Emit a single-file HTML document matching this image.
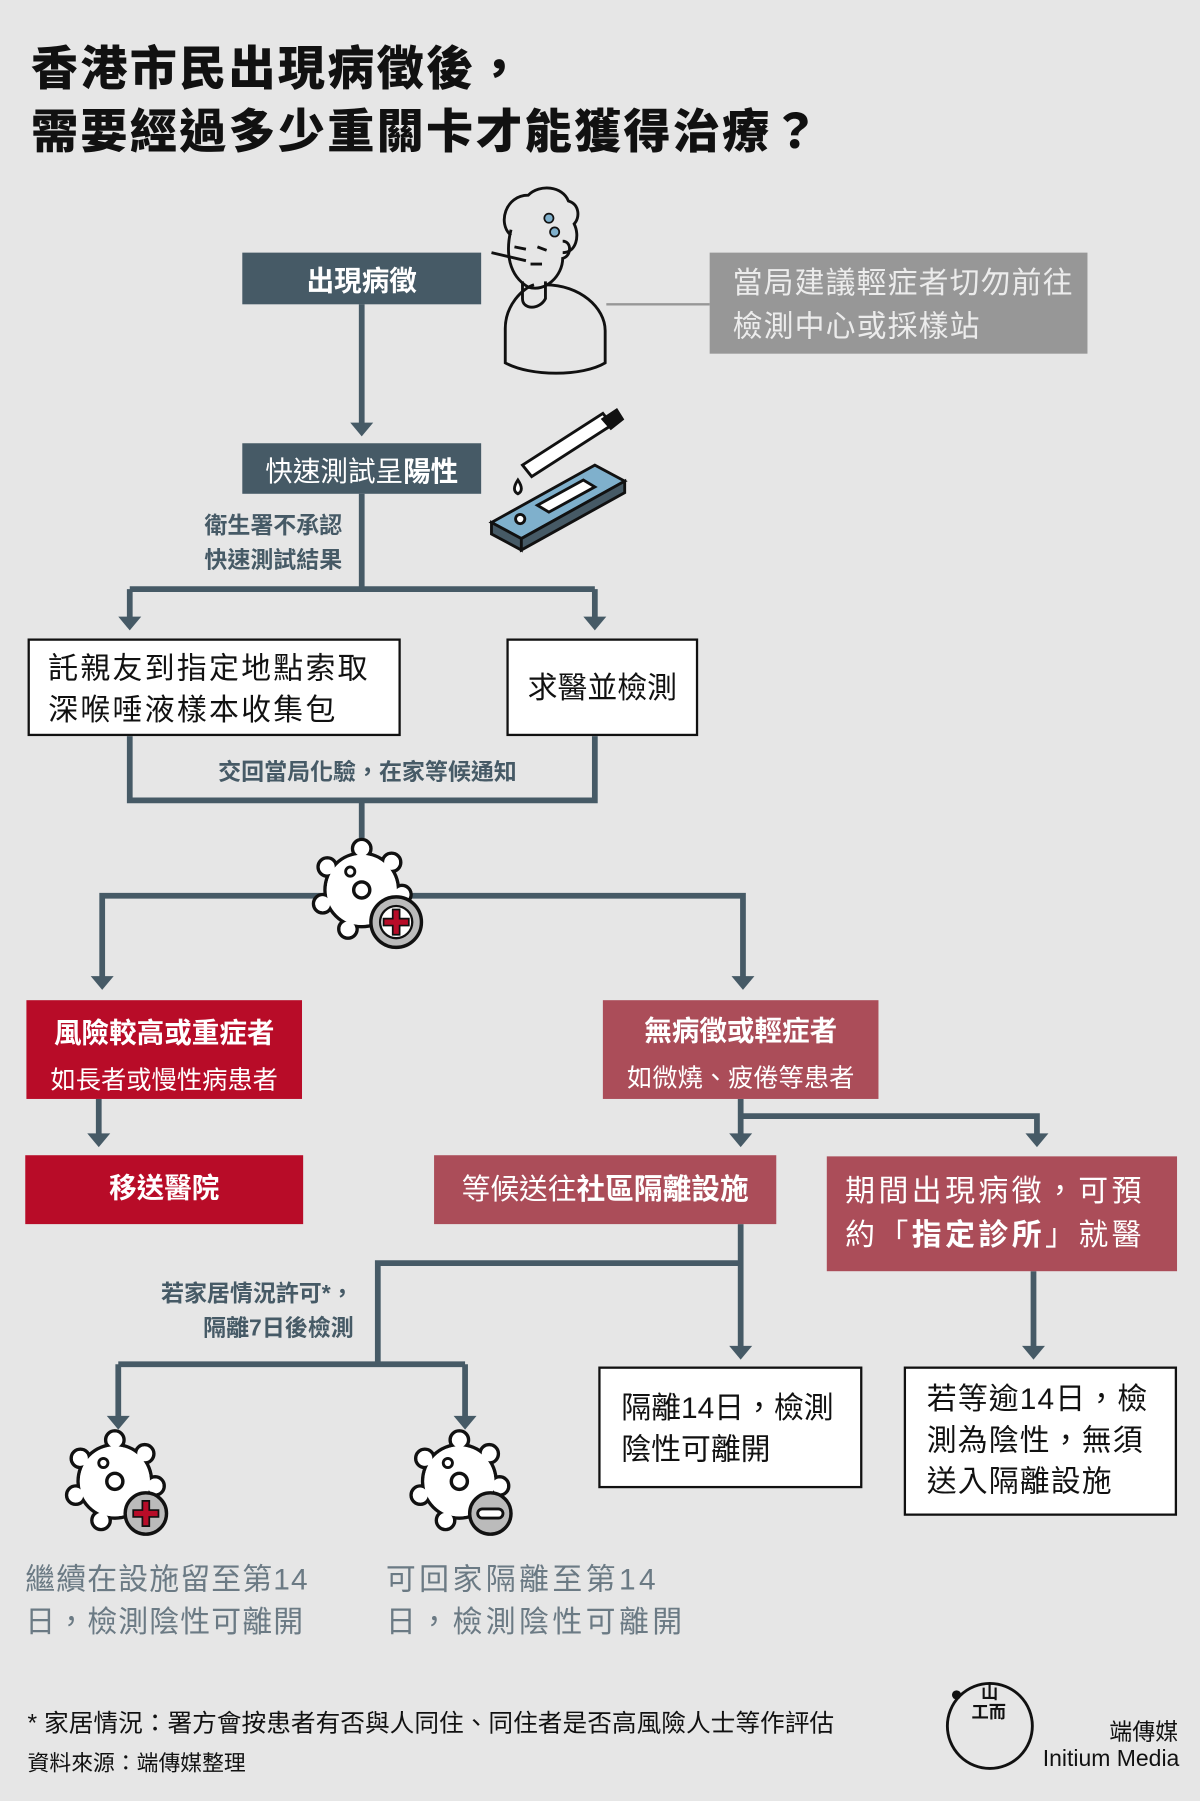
<!DOCTYPE html>
<html><head><meta charset="utf-8"><style>
html,body{margin:0;padding:0;background:#e6e6e6;}
body{width:1200px;height:1800px;overflow:hidden;position:relative;}
#w{position:absolute;left:0;top:0;width:1045px;height:1568px;transform:scale(1.14833);transform-origin:0 0;font-family:"Liberation Sans","Noto Sans CJK TC",sans-serif;}
.a{position:absolute;}
.t{font-size:41px;font-weight:900;color:#111;left:27px;letter-spacing:2px;}
.dk{background:#465a66;color:#fff;display:flex;align-items:center;justify-content:center;font-size:24px;}
.wb{background:#fff;border:2px solid #111;box-sizing:border-box;font-size:26px;color:#111;line-height:36px;}
.lab{color:#465a66;font-weight:bold;font-size:20px;line-height:30px;text-align:right;}
.red{background:#b80c28;color:#fff;text-align:center;}
.pk{background:#ab4d59;color:#fff;text-align:center;}
.gt{color:#6b7a84;font-size:26px;line-height:37px;letter-spacing:1px;}
</style></head><body><div id="w">
<div class="a t" style="top:26px">香港市民出現病徵後，</div>
<div class="a t" style="top:81px">需要經過多少重關卡才能獲得治療？</div>

<svg class="a" style="left:0;top:0" width="1045" height="1568">
<defs>
<g id="v">
<g stroke="#111" stroke-width="3" fill="#fff">
<circle cx="0" cy="-36" r="8"/><circle cx="26" cy="-24" r="8"/><circle cx="35" cy="4" r="8"/><circle cx="20" cy="30" r="8"/><circle cx="-12" cy="34" r="8"/><circle cx="-34" cy="12" r="8"/><circle cx="-30" cy="-20" r="8"/>
<circle cx="0" cy="0" r="32"/>
</g>
<g fill="#fff"><circle cx="0" cy="-36" r="6.5"/><circle cx="26" cy="-24" r="6.5"/><circle cx="35" cy="4" r="6.5"/><circle cx="20" cy="30" r="6.5"/><circle cx="-12" cy="34" r="6.5"/><circle cx="-34" cy="12" r="6.5"/><circle cx="-30" cy="-20" r="6.5"/><circle r="30.5"/></g>
<circle cx="0" cy="0" r="7" fill="#fff" stroke="#111" stroke-width="3"/>
<circle cx="-10" cy="-16" r="4" fill="#fff" stroke="#111" stroke-width="2.5"/>
</g>
</defs>
<g stroke="#465a66" stroke-width="5" fill="none">
<path d="M315 265V372"/>
<path d="M315 430V513M113 513H518M113 513V540M518 513V540"/>
<path d="M113 641V697H518V641M315 697V730"/>
<path d="M89 855V780H647V855"/>
<path d="M86 957V992"/>
<path d="M645 957V992M645 972H903V992"/>
<path d="M645 1066V1176M645 1100H329V1188M103 1188H405M103 1188V1238M405 1188V1238"/>
<path d="M900 1107V1176"/>
</g>
<g fill="#465a66">
<path d="M305 368h20l-10 12z"/><path d="M103 537h20l-10 12z"/><path d="M508 537h20l-10 12z"/>
<path d="M79 850h20l-10 12z"/><path d="M637 850h20l-10 12z"/>
<path d="M76 987h20l-10 12z"/><path d="M635 987h20l-10 12z"/><path d="M893 987h20l-10 12z"/>
<path d="M635 1172h20l-10 12z"/><path d="M890 1172h20l-10 12z"/>
<path d="M93 1233h20l-10 12z"/><path d="M395 1233h20l-10 12z"/>
</g>
<path d="M528 265H618" stroke="#979797" stroke-width="2"/>
<g stroke="#111" stroke-width="2.5" fill="none">
<path d="M445 205c-12-10-5-35 15-35 10-10 30-8 35 5 10 3 10 15 5 20 5 10 2 25-10 25"/>
<path d="M445 200c-5 20-2 40 15 50 15 5 30-10 30-25 8-2 8-15 0-15"/>
<path d="M455 245v15c0 10 15 10 20 0v-15"/>
<path d="M475 248c30 0 52 20 52 40v28c-20 12-65 12-87 0v-30c0-20 15-35 25-38"/>
<path d="M448 215l10 2M468 215l8 3M462 230l10 0"/>
<path d="M428 220l30 7"/>
</g>
<circle cx="478" cy="190" r="4" fill="#7fb0cc" stroke="#111" stroke-width="1.5"/>
<circle cx="483" cy="202" r="4" fill="#7fb0cc" stroke="#111" stroke-width="1.5"/>
<g stroke="#111" stroke-width="2.5">
<path d="M428 455l90-50 26 14-90 50z" fill="#7fb0cc"/>
<path d="M428 455v10l26 14v-10zM454 469v10l90-50v-10z" fill="#465a66"/>
<path d="M468 440l40-22 10 6-40 22z" fill="#fff"/>
<circle cx="453" cy="452" r="4" fill="#fff"/>
<path d="M455 405l70-45 8 10-70 45z" fill="#fff"/>
<path d="M525 365l12-8 5 8-10 8z" fill="#111"/>
<path d="M451 418c-4 6-4 10 0 12 4-2 4-6 0-12z" fill="#fff"/>
</g>
<use href="#v" x="315" y="775"/>
<g transform="translate(345,803)"><circle r="22" fill="#bbb" stroke="#111" stroke-width="3"/><circle r="14" fill="#fff" stroke="#111" stroke-width="2"/><path d="M-3-11h6v8h8v6h-8v8h-6v-8h-8v-6h8z" fill="#b80c28" stroke="#111" stroke-width="1.5"/></g>
<use href="#v" x="100" y="1290"/>
<g transform="translate(127,1318)"><circle r="18" fill="#bbb" stroke="#111" stroke-width="3"/><path d="M-3-11h6v8h8v6h-8v8h-6v-8h-8v-6h8z" fill="#b80c28" stroke="#111" stroke-width="1.5"/></g>
<use href="#v" x="400" y="1290"/>
<g transform="translate(427,1318)"><circle r="18" fill="#bbb" stroke="#111" stroke-width="3"/><rect x="-11" y="-4" width="22" height="8" rx="4" fill="#fff" stroke="#111" stroke-width="2.5"/></g>
<circle cx="862" cy="1503" r="37" fill="none" stroke="#111" stroke-width="2.5"/>
<circle cx="833" cy="1476" r="4" fill="#111"/>
</svg>

<div class="a dk" style="left:211px;top:220px;width:208px;height:45px;font-weight:bold;">出現病徵</div>
<div class="a" style="left:618px;top:220px;width:329px;height:88px;background:#979797;color:#ececec;font-size:26px;line-height:38px;padding:7px 0 0 20px;box-sizing:border-box;letter-spacing:1px;">當局建議輕症者切勿前往<br>檢測中心或採樣站</div>
<div class="a dk" style="left:211px;top:386px;width:208px;height:44px;">快速測試呈<b>陽性</b></div>
<div class="a lab" style="left:120px;top:443px;width:178px;">衛生署不承認<br>快速測試結果</div>
<div class="a wb" style="left:24px;top:556px;width:325px;height:85px;padding:6px 0 0 16px;letter-spacing:2px;">託親友到指定地點索取<br>深喉唾液樣本收集包</div>
<div class="a wb" style="left:441px;top:556px;width:167px;height:85px;display:flex;align-items:center;justify-content:center;">求醫並檢測</div>
<div class="a lab" style="left:120px;top:658px;width:400px;text-align:center;">交回當局化驗，在家等候通知</div>
<div class="a red" style="left:23px;top:871px;width:240px;height:86px;"><div style="font-size:24px;font-weight:bold;margin-top:9px;">風險較高或重症者</div><div style="font-size:22px;margin-top:8px;">如長者或慢性病患者</div></div>
<div class="a pk" style="left:525px;top:871px;width:240px;height:86px;"><div style="font-size:24px;font-weight:bold;margin-top:7px;">無病徵或輕症者</div><div style="font-size:22px;margin-top:8px;">如微燒、疲倦等患者</div></div>
<div class="a red" style="left:22px;top:1006px;width:242px;height:60px;line-height:60px;font-size:24px;font-weight:bold;">移送醫院</div>
<div class="a pk" style="left:378px;top:1006px;width:298px;height:60px;line-height:60px;font-size:25px;">等候送往<b>社區隔離設施</b></div>
<div class="a pk" style="left:720px;top:1007px;width:305px;height:100px;text-align:left;font-size:26px;line-height:38px;padding:11px 0 0 16px;box-sizing:border-box;letter-spacing:3px;">期間出現病徵，可預<br>約「<b>指定診所</b>」就醫</div>
<div class="a lab" style="left:60px;top:1112px;width:248px;">若家居情況許可*，<br>隔離7日後檢測</div>
<div class="a wb" style="left:521px;top:1190px;width:230px;height:106px;padding:16px 0 0 18px;">隔離14日，檢測<br>陰性可離開</div>
<div class="a wb" style="left:787px;top:1190px;width:238px;height:130px;padding:8px 0 0 18px;letter-spacing:1px;">若等逾14日，檢<br>測為陰性，無須<br>送入隔離設施</div>
<div class="a gt" style="left:22px;top:1357px;">繼續在設施留至第14<br>日，檢測陰性可離開</div>
<div class="a gt" style="left:336px;top:1357px;letter-spacing:3px;">可回家隔離至第14<br>日，檢測陰性可離開</div>
<div class="a" style="left:24px;top:1484px;font-size:21.5px;color:#111;">* 家居情況：署方會按患者有否與人同住、同住者是否高風險人士等作評估</div>
<div class="a" style="left:24px;top:1521px;font-size:19px;color:#111;">資料來源：端傳媒整理</div>
<div class="a" style="left:846px;top:1466px;font-size:15px;font-weight:bold;line-height:17px;color:#111;">&nbsp;&nbsp;山<br>工而</div>
<div class="a" style="left:900px;top:1492px;width:126px;text-align:right;font-size:20px;color:#111;">端傳媒</div>
<div class="a" style="left:880px;top:1521px;width:147px;text-align:right;font-size:20px;color:#111;">Initium Media</div>
</div></body></html>
